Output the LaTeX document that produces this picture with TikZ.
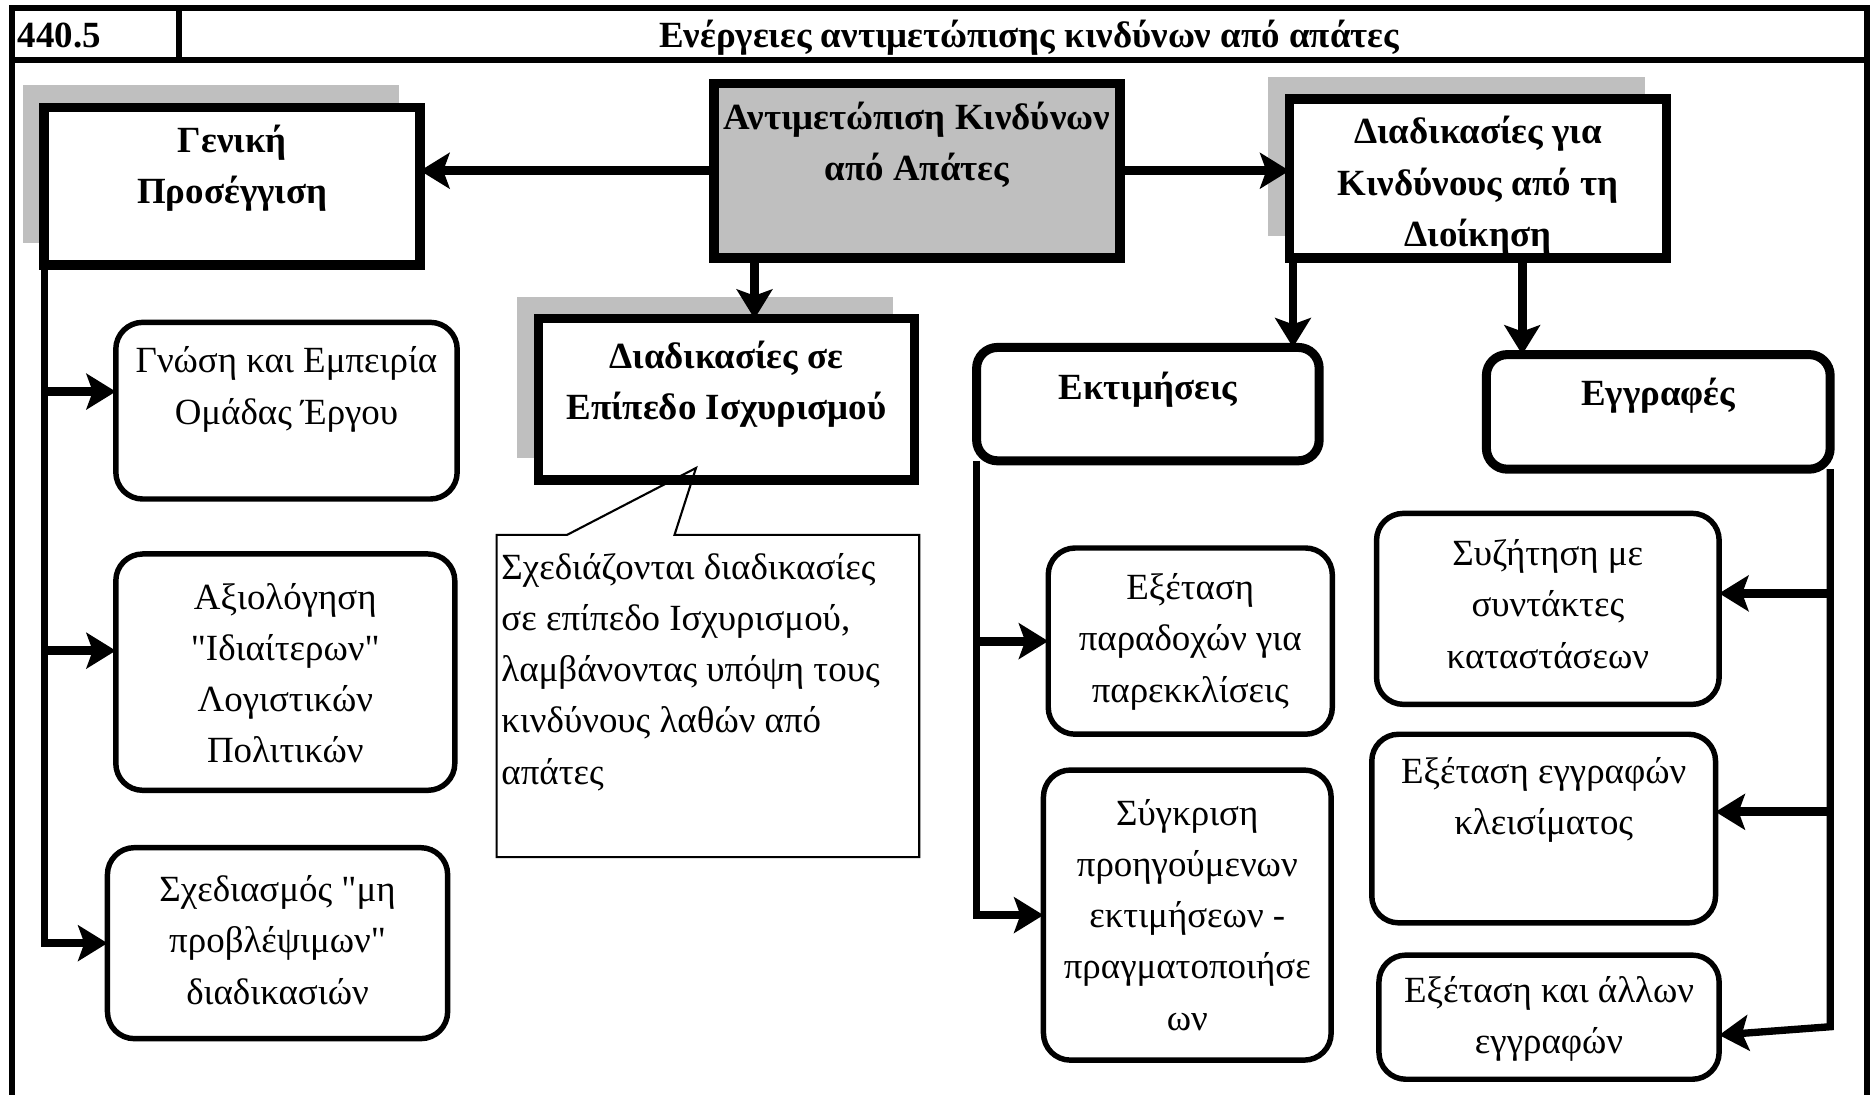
\documentclass[tikz,border=0pt]{standalone}
\usepackage{fontspec}
\setmainfont{Liberation Serif}[Ligatures = TeXOff]
\usetikzlibrary{positioning,arrows.meta,shadows}

\begin{document}
\begin{tikzpicture}[
    x = 0.02cm, y = -0.02cm,
    outer sep = 0mm, inner sep = 0mm,
    txt/.style = {align = center, font = \fontsize{17.6}{24.4}\selectfont},
    txtb/.style = {align = center, font = \fontsize{17.6}{24.4}\selectfont\bfseries},
    mainbox/.style = {
      rectangle, draw = black, line width = 4.5pt, fill = white, anchor = north west,
      drop shadow = {shadow xshift = -0.36cm, shadow yshift = 0.37cm,
        fill = black!25, opacity = 1},
    },
    headbox/.style = {
      rectangle, rounded corners = 0.35cm, draw = black, line width = 4.3pt,
      anchor = north west,
    },
    rbox/.style = {
      rectangle, rounded corners = 0.45cm, draw = black, line width = 2.6pt,
      anchor = north west,
    },
    arr/.style = {line width = 4.2pt, -{Stealth[length = 14pt, width = 17pt, inset = 3pt]}},
    trunk/.style = {line width = 3.5pt, -{Stealth[length = 14pt, width = 17pt, inset = 3pt]}},
  ]
  \useasboundingbox (0,0) rectangle (1568,917);

  % frame and header
  \draw[line width = 2.8pt] (10,925) -- (10,7) -- (1564,7) -- (1564,925);
  \draw[line width = 2.8pt] (10,50) -- (1564,50);
  \draw[line width = 2.8pt] (150,7) -- (150,50);
  \node[txtb, anchor = base west] (num) at (15,40) {440.5};
  \node[txtb, anchor = base] (title) at (862,40) {Ενέργειες αντιμετώπισης κινδύνων από απάτες};

  % top level
  \node[rectangle, draw = black, line width = 4.5pt, fill = black!25, anchor = north west,
    minimum width = 6.8cm, minimum height = 2.92cm] (cent) at (598,70) {};
  \node[mainbox, minimum width = 6.3cm, minimum height = 2.64cm] (gen) at (37,90) {};
  \node[mainbox, minimum width = 6.32cm, minimum height = 2.66cm] (dgia) at (1080,83) {};
  \node[mainbox, minimum width = 6.3cm, minimum height = 2.7cm] (dse) at (451,267) {};

  \node[txtb, below = 0.31cm of cent.north] (centt) {Αντιμετώπιση Κινδύνων\\από Απάτες};
  \node[txtb, below = 0.3cm of gen.north] (gent) {Γενική\\Προσέγγιση};
  \node[txtb, below = 0.29cm of dgia.north] (dgiat) {Διαδικασίες για\\Κινδύνους από τη\\Διοίκηση};
  \node[txtb, below = 0.37cm of dse.north] (dset) {Διαδικασίες σε\\Επίπεδο Ισχυρισμού};

  \draw[arr] (cent.west) -- (cent.west -| gen.east);
  \draw[arr] (cent.east) -- (cent.east -| dgia.west);
  \draw[arr] ([xshift = 0.68cm]cent.south west) -- ([xshift = 0.68cm]cent.south west |- dse.north);

  % general approach
  \node[rbox, minimum width = 5.72cm, minimum height = 2.96cm] (gnosi) at (97,270) {};
  \node[rbox, minimum width = 5.68cm, minimum height = 3.96cm] (axio) at (97,464) {};
  \node[rbox, minimum width = 5.7cm, minimum height = 3.2cm] (sched) at (90,710) {};
  \node[txt, below = 0.41cm of gnosi.north] (gnosit) {Γνώση και Εμπειρία\\Ομάδας Έργου};
  \node[txt, below = 0.49cm of axio.north] (axiot) {Αξιολόγηση\\"Ιδιαίτερων"\\Λογιστικών\\Πολιτικών};
  \node[txt, below = 0.47cm of sched.north] (schedt) {Σχεδιασμός "μη\\προβλέψιμων"\\διαδικασιών};

  \draw[trunk] (gen.south west) |- (sched.west);
  \draw[arr] ([yshift = 0.32cm]gnosi.west -| gen.west) -- ([yshift = 0.32cm]gnosi.west);
  \draw[arr] ([yshift = 0.36cm]axio.west -| gen.west) -- ([yshift = 0.36cm]axio.west);

  % note
  \node[anchor = north west, minimum width = 7.08cm, minimum height = 5.4cm] (note) at (416,448) {};
  \draw[line width = 1pt] ([xshift = 2.98cm]note.north west) -- (note.north east)
    -- (note.south east) -- (note.south west) -- (note.north west)
    -- ([xshift = 1.18cm]note.north west) -- ([xshift = -0.51cm, yshift = 0.2cm]dse.south) -- cycle;
  \node[txt, align = left, below right = 0.31cm and 0.08cm of note.north west] (notet)
    {Σχεδιάζονται διαδικασίες\\σε επίπεδο Ισχυρισμού,\\λαμβάνοντας υπόψη τους\\κινδύνους λαθών από\\απάτες};

  % management risks
  \node[headbox, minimum width = 5.74cm, minimum height = 1.9cm] (ektim) at (818,291) {};
  \node[headbox, minimum width = 5.76cm, minimum height = 1.92cm] (eggr) at (1245,297) {};
  \node[txtb, below = 0.41cm of ektim.north] (ektimt) {Εκτιμήσεις};
  \node[txtb, below = 0.39cm of eggr.north] (eggrt) {Εγγραφές};

  \draw[arr] ([xshift = 0.06cm]dgia.south west) -- ([xshift = 0.06cm]dgia.south west |- ektim.north);
  \draw[arr] ([xshift = 0.6cm]eggr.north west |- dgia.south) -- ([xshift = 0.6cm]eggr.north west);

  \node[rbox, minimum width = 4.76cm, minimum height = 3.12cm] (parad) at (878,459) {};
  \node[rbox, minimum width = 4.82cm, minimum height = 4.86cm] (sygkr) at (874,645) {};
  \node[txt, below = 0.43cm of parad.north] (paradt) {Εξέταση\\παραδοχών για\\παρεκκλίσεις};
  \node[txt, below = 0.49cm of sygkr.north] (sygkrt) {Σύγκριση\\προηγούμενων\\εκτιμήσεων -\\πραγματοποιήσε\\ων};

  \draw[trunk] (ektim.south west) |- (sygkr.west);
  \draw[arr] (parad.west -| ektim.west) -- (parad.west);

  \node[rbox, minimum width = 5.74cm, minimum height = 3.2cm] (syz) at (1153,430) {};
  \node[rbox, minimum width = 5.76cm, minimum height = 3.16cm] (kleis) at (1149,615) {};
  \node[rbox, minimum width = 5.7cm, minimum height = 2.08cm] (allon) at (1155,800) {};
  \node[txt, below = 0.44cm of syz.north] (syzt) {Συζήτηση με\\συντάκτες\\καταστάσεων};
  \node[txt, below = 0.39cm of kleis.north] (kleist) {Εξέταση εγγραφών\\κλεισίματος};
  \node[txt, below = 0.36cm of allon.north] (allont) {Εξέταση και άλλων\\εγγραφών};

  \draw[trunk] (eggr.south east) -- ([yshift = -0.16cm]allon.east -| eggr.south east)
    -- ([yshift = -0.3cm]allon.east);
  \draw[arr] ([yshift = 0.26cm]syz.east -| eggr.east) -- ([yshift = 0.26cm]syz.east);
  \draw[arr] ([yshift = 0.28cm]kleis.east -| eggr.east) -- ([yshift = 0.28cm]kleis.east);
\end{tikzpicture}
\end{document}
